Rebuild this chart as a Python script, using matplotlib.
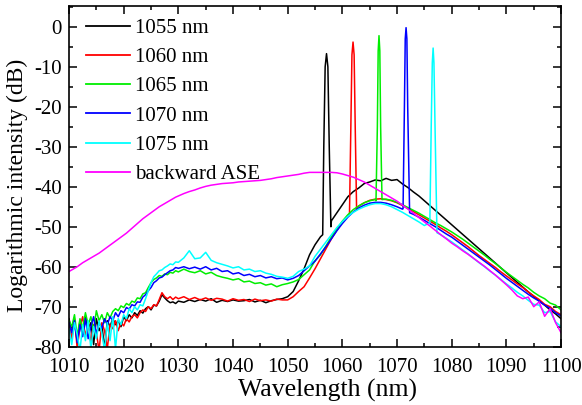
import numpy as np
import matplotlib
matplotlib.use("Agg")
import matplotlib.pyplot as plt
from matplotlib.ticker import MultipleLocator

# ---------------- data ----------------
wl = np.concatenate([np.arange(1010, 1030, 0.5), np.arange(1030, 1101, 1.0)])

ase = [-61.2, -60.8, -60.4, -60.0, -59.5, -59.0, -58.6, -58.2, -57.8, -57.4,
       -57.0, -56.6, -56.1, -55.6, -55.1, -54.6, -54.1, -53.6, -53.1, -52.6,
       -52.1, -51.6, -51.0, -50.4, -49.8, -49.2, -48.6, -48.0, -47.5, -47.0,
       -46.5, -46.0, -45.5, -45.0, -44.6, -44.2, -43.8, -43.4, -43.0, -42.6,
       -42.3, -41.7, -41.2, -40.8, -40.3, -39.9, -39.6, -39.4, -39.2, -39.1,
       -39.0, -38.8, -38.7, -38.6, -38.5, -38.4, -38.2, -38.0, -37.7, -37.5,
       -37.3, -37.1, -36.9, -36.6, -36.4, -36.4, -36.4, -36.4, -36.4, -36.5,
       -36.8, -37.2, -37.6, -38.2, -38.8, -39.6, -40.4, -41.2, -42.0, -42.8,
       -43.6, -44.6, -45.6, -46.6, -47.7, -48.8, -49.8, -50.9, -52.0, -53.0,
       -54.1, -55.0, -56.0, -56.9, -57.9, -58.9, -59.9, -61.0, -62.1, -63.3,
       -64.5, -65.8, -67.3, -68.0, -67.6, -70.0, -68.8, -72.4, -70.5, -74.0,
       -76.5]

s1055 = [-73.0, -76.5, -74.0, -78.5, -73.5, -77.0, -72.5, -75.5, -74.0, -79.5,
         -73.0, -76.0, -74.5, -80.5, -73.5, -75.0, -73.0, -74.5, -73.5, -75.0,
         -72.5, -73.5, -72.0, -72.8, -71.5, -72.2, -71.0, -71.6, -70.5, -70.0,
         -70.8, -69.6, -69.8, -68.6, -67.0, -67.8, -68.5, -69.0, -68.8, -69.2,
         -68.6, -68.9, -68.3, -68.7, -68.2, -68.6, -68.0, -68.9, -68.4, -68.7,
         -68.3, -68.6, -68.5, -68.2, -68.8, -68.4, -69.0, -68.5, -68.2, -68.0,
         -67.5, -66.2, -63.5, -60.5, -57.0, -54.5, -52.5, -50.5, -48.5, -46.5,
         -44.5, -42.5, -41.2, -40.3, -39.2, -38.8, -38.3, -38.5, -37.9, -38.4,
         -38.2, -39.3, -40.2, -41.3, -42.3, -43.5, -44.7, -45.9, -47.1, -48.3,
         -49.5, -50.7, -51.9, -53.1, -54.3, -55.5, -56.7, -57.9, -59.1, -60.3,
         -61.5, -62.7, -63.9, -65.1, -66.3, -67.4, -68.6, -69.6, -70.8, -71.8,
         -73.0]

s1060 = [-74.5, -78.0, -73.0, -80.5, -75.0, -72.5, -77.5, -74.0, -79.0, -74.5,
         -76.5, -81.0, -74.0, -76.0, -80.5, -74.5, -75.5, -73.5, -76.0, -74.0,
         -74.8, -73.0, -73.8, -72.5, -72.0, -72.8, -71.5, -70.8, -71.2, -70.0,
         -70.5, -69.5, -69.8, -68.2, -66.5, -67.5, -68.0, -67.5, -68.2, -67.6,
         -68.0, -67.5, -68.2, -67.7, -68.3, -67.8, -68.4, -67.9, -68.1, -68.6,
         -68.0, -68.4, -68.2, -68.7, -68.1, -68.5, -68.3, -68.6, -68.1, -68.3,
         -68.3, -67.5, -66.2, -65.0, -62.8, -60.5, -58.0, -55.5, -53.0, -50.8,
         -48.8, -47.2, -46.0, -44.8, -44.0, -43.4, -43.1, -43.0, -43.2, -43.5,
         -44.0, -44.7, -45.4, -46.2, -47.0, -47.8, -48.6, -49.4, -50.3, -51.1,
         -52.0, -53.0, -54.0, -55.0, -56.1, -57.2, -58.2, -59.2, -60.2, -61.3,
         -62.3, -63.3, -64.3, -65.2, -66.3, -67.3, -68.2, -69.4, -70.0, -71.2,
         -72.0]

s1065 = [-73.5, -75.0, -72.0, -77.5, -73.0, -75.5, -71.5, -74.5, -72.5, -76.0,
         -71.0, -73.5, -72.0, -74.0, -71.5, -72.8, -71.2, -70.5, -71.0, -69.8,
         -70.2, -69.2, -69.6, -68.6, -68.9, -67.8, -68.0, -66.8, -66.5, -65.2,
         -64.0, -63.2, -62.8, -62.2, -62.4, -61.8, -62.0, -61.4, -61.6, -61.0,
         -61.3, -60.6, -61.2, -61.5, -61.0, -61.8, -61.4, -62.2, -62.6, -62.9,
         -63.3, -63.0, -63.8, -63.6, -64.2, -64.0, -64.6, -64.3, -65.0, -64.5,
         -64.2, -63.8, -63.2, -62.0, -60.8, -58.5, -57.0, -54.8, -52.5, -50.5,
         -48.6, -47.0, -45.7, -44.8, -44.0, -43.5, -43.2, -43.0, -43.1, -43.4,
         -43.9, -44.5, -45.2, -45.9, -46.6, -47.4, -48.2, -49.0, -49.7, -50.5,
         -51.3, -52.2, -53.1, -54.1, -55.1, -56.1, -57.1, -58.2, -59.2, -60.3,
         -61.4, -62.4, -63.4, -64.4, -65.3, -66.4, -67.3, -68.0, -69.1, -69.6,
         -70.8]

s1070 = [-74.0, -76.5, -73.5, -79.0, -74.5, -77.5, -73.0, -78.0, -75.0, -72.5,
         -77.0, -74.0, -75.5, -73.0, -74.5, -72.5, -73.5, -71.5, -72.5, -71.0,
         -71.5, -70.2, -70.6, -69.5, -69.8, -68.8, -68.9, -67.6, -67.0, -66.0,
         -65.2, -64.0, -63.5, -62.8, -62.6, -62.0, -61.5, -61.0, -60.8, -60.2,
         -60.4, -60.0, -60.5, -60.1, -60.6, -60.0, -60.8, -60.4, -61.2, -61.0,
         -61.8, -61.5, -62.2, -61.9, -62.5, -62.2, -62.8, -62.5, -63.0, -62.8,
         -63.3, -62.9, -62.2, -61.0, -59.8, -58.6, -56.8, -55.0, -53.0, -51.0,
         -49.2, -47.6, -46.3, -45.3, -44.6, -44.1, -43.9, -43.9, -44.1, -44.5,
         -45.0, -45.6, -46.2, -46.9, -47.6, -48.4, -49.2, -50.0, -50.9, -51.8,
         -52.6, -53.6, -54.6, -55.6, -56.6, -57.6, -58.6, -59.6, -60.7, -61.8,
         -62.9, -63.9, -64.9, -65.9, -66.9, -67.8, -68.6, -69.6, -70.4, -71.5,
         -72.3]

s1075 = [-75.5, -79.5, -74.0, -77.0, -81.0, -74.5, -78.5, -73.5, -80.5, -75.0,
         -78.0, -73.5, -76.5, -81.0, -74.0, -78.5, -72.5, -80.5, -73.0, -74.5,
         -72.0, -73.0, -70.5, -71.5, -70.0, -70.8, -69.5, -69.8, -68.0, -66.0,
         -64.0, -62.5, -61.8, -61.0, -60.8, -60.2, -59.8, -59.3, -59.5, -58.8,
         -58.9, -57.8, -56.0, -58.0, -57.8, -56.4, -58.4, -59.0, -59.4, -59.8,
         -60.3, -60.0, -60.8, -60.6, -61.2, -61.0, -61.6, -61.9, -62.4, -62.6,
         -62.9, -62.4, -61.2, -60.6, -59.8, -57.4, -55.6, -53.8, -52.0, -50.2,
         -48.7, -47.4, -46.4, -45.6, -45.0, -44.5, -44.2, -44.2, -44.5, -45.0,
         -45.7, -46.4, -47.2, -48.0, -48.8, -49.7, -50.5, -51.3, -52.0, -52.9,
         -53.8, -54.8, -55.8, -56.8, -57.9, -59.0, -60.0, -61.1, -62.1, -63.2,
         -64.3, -65.3, -66.4, -67.3, -68.4, -69.4, -69.6, -71.5, -71.2, -73.8,
         -75.0]

# laser lines (wavelength, dB)
pk1055_wl = [1056.4, 1056.6, 1056.85, 1057.1, 1057.35, 1057.6, 1057.9]
pk1055_db = [-52.0, -30.0, -10.0, -6.7, -10.0, -30.0, -50.0]
pk1060_wl = [1061.3, 1061.55, 1061.75, 1061.95, 1062.15, 1062.35, 1062.6]
pk1060_db = [-47.0, -25.0, -7.0, -3.8, -7.0, -25.0, -45.5]
pk1065_wl = [1066.15, 1066.4, 1066.55, 1066.7, 1066.85, 1067.0, 1067.25]
pk1065_db = [-43.5, -25.0, -6.0, -2.2, -6.0, -25.0, -43.2]
pk1070_wl = [1071.1, 1071.35, 1071.5, 1071.65, 1071.8, 1071.95, 1072.3]
pk1070_db = [-45.5, -20.0, -3.0, -0.2, -3.0, -20.0, -46.5]
pk1075_wl = [1076.0, 1076.25, 1076.45, 1076.6, 1076.75, 1076.95, 1077.3]
pk1075_db = [-49.0, -25.0, -9.0, -5.3, -9.0, -25.0, -51.5]

labels = ["1055 nm", "1060 nm", "1065 nm", "1070 nm", "1075 nm", "backward ASE"]
colors = ["#000000", "#ff0000", "#00ee00", "#0000ff", "#00ffff", "#ff00ff"]


def with_peak(base, pk_wl, pk_db):
    base = np.asarray(base)
    pk_wl = np.asarray(pk_wl)
    pk_db = np.asarray(pk_db)
    keep = (wl < pk_wl.min()) | (wl > pk_wl.max())
    x = np.concatenate([wl[keep], pk_wl])
    y = np.concatenate([base[keep], pk_db])
    o = np.argsort(x)
    return x[o], y[o]


plt.rcParams['font.family'] = ['Liberation Serif', 'DejaVu Serif']
plt.rcParams['axes.unicode_minus'] = False

fig = plt.figure(figsize=(5.82, 4.05), dpi=100)
ax = fig.add_axes([0.1186, 0.144, 0.8454, 0.841])

series = [with_peak(s1055, pk1055_wl, pk1055_db),
          with_peak(s1060, pk1060_wl, pk1060_db),
          with_peak(s1065, pk1065_wl, pk1065_db),
          with_peak(s1070, pk1070_wl, pk1070_db),
          with_peak(s1075, pk1075_wl, pk1075_db),
          (wl, np.asarray(ase))]

for (x, y), c, lab in zip(series, colors, labels):
    ax.plot(x, y, color=c, lw=1.1, label=lab)

ax.set_xlim(1010, 1100)
ax.set_ylim(-80, 5.2)
ax.xaxis.set_major_locator(MultipleLocator(10))
ax.xaxis.set_minor_locator(MultipleLocator(5))
ax.yaxis.set_major_locator(MultipleLocator(10))
ax.yaxis.set_minor_locator(MultipleLocator(5))
ax.tick_params(which='both', direction='in', top=True, right=True, width=1.1,
               labelsize=15)
ax.tick_params(axis='x', which='major', pad=8)
ax.tick_params(axis='y', which='major', pad=5)
ax.tick_params(which='major', length=5.5)
ax.tick_params(which='minor', length=3)
for sp in ax.spines.values():
    sp.set_linewidth(1.2)

ax.set_xlabel("Wavelength (nm)", fontsize=18.5)
ax.set_ylabel("Logarithmic intensity (dB)", fontsize=17)
ax.xaxis.set_label_coords(0.525, -0.095)
ax.yaxis.set_label_coords(-0.083, 0.475)

leg = ax.legend(loc='upper left', bbox_to_anchor=(0.01, 1.0), frameon=False,
                fontsize=15, handlelength=2.1, handletextpad=0.25,
                labelspacing=0.46, borderaxespad=0.2)
for h in leg.get_lines():
    h.set_linewidth(1.3)

fig.savefig("out.png", dpi=100)
